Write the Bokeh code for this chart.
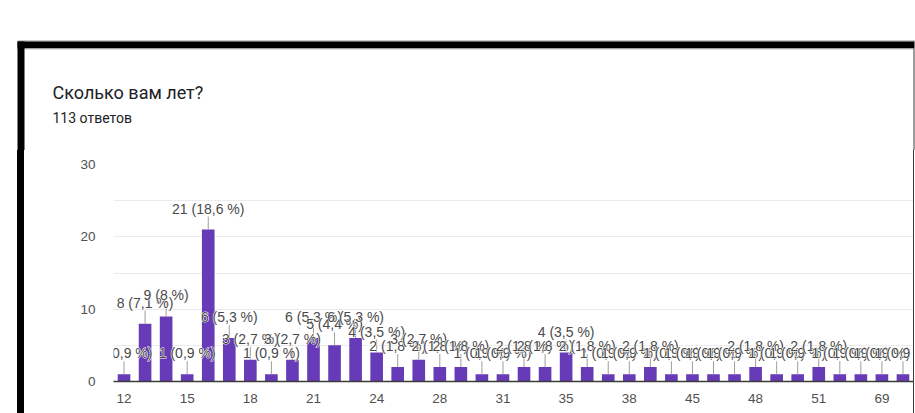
from bokeh.plotting import figure
from bokeh.layouts import column, row
from bokeh.models import (ColumnDataSource, FixedTicker, Range1d, CDSView, IndexFilter,
                          Div, Spacer)
from bokeh.core.properties import value
from bokeh.embed import file_html
from bokeh.resources import INLINE

# Survey answers: age -> number of respondents
ages = [12, 13, 14, 15, 16, 17, 18, 19, 20, 21, 22, 23, 24, 25, 26, 28, 29, 30, 31,
        32, 33, 35, 36, 37, 38, 40, 42, 45, 46, 47, 48, 49, 50, 51, 53, 60, 69, 70]
counts = [1, 8, 9, 1, 21, 6, 3, 1, 3, 6, 5, 6, 4, 2, 3, 2, 2, 1, 1,
          2, 2, 4, 2, 1, 1, 2, 1, 1, 1, 1, 2, 1, 1, 2, 1, 1, 1, 1]
y_ticks = [0, 10, 20, 30]
question = "Сколько вам лет?"

total = sum(counts)


def pct(n):
    s = f"{round(n * 100 / total, 1):.1f}".rstrip("0").rstrip(".")
    return s.replace(".", ",")


labels = [f"{n} ({pct(n)} %)" for n in counts]

# ---- page geometry (pixels) ----
W, H = 915, 413
HEAD_H = 150            # heading strip height
BODY_H = H - HEAD_H     # chart strip height
MARGIN_W = 17           # white page margin left of the card
EDGE_W = 7              # black card edge
RIGHT_W = 1             # thin card edge on the right
CHART_W = W - MARGIN_W - EDGE_W - RIGHT_W - 1

FRAME_LEFT = 113 - MARGIN_W - EDGE_W   # inside the chart figure
FRAME_TOP = 164 - HEAD_H
FRAME_BOTTOM = 381 - HEAD_H
Y_MAX = 30
px_per_unit = (FRAME_BOTTOM - FRAME_TOP) / Y_MAX
LABEL_RISE = 21   # label centre above bar top
STEM_LEN = 13     # leader line length

EDGE = "black"
THIN_EDGE = "#3a3a3a"


def edge_block(width, height, color):
    """Solid block of the card edge, beside the chart."""
    html = (f'<div style="width:{width}px;height:{height}px;'
            f'background-color:{color};margin:0;padding:0"></div>')
    return Div(text=html, width=width, height=height, margin=0)


# ---- heading strip: card edges, question and answer count ----
head = figure(width=W, height=HEAD_H, x_range=Range1d(0, W),
              y_range=Range1d(HEAD_H, 0), x_axis_location=None,
              y_axis_location=None, toolbar_location=None,
              output_backend="svg", min_border=0, outline_line_color=None,
              background_fill_color="white", border_fill_color="white",
              frame_align=False)
head.xgrid.visible = False
head.ygrid.visible = False
head.quad(left=[17], right=[W], top=[40], bottom=[41], color="#9a9a9a", line_color=None)
head.quad(left=[17], right=[914], top=[41], bottom=[48], color=EDGE, line_color=None)
head.quad(left=[24], right=[913], top=[48], bottom=[49], color="#c8c8c8", line_color=None)
head.quad(left=[17], right=[24], top=[41], bottom=[HEAD_H], color=EDGE, line_color=None)
head.quad(left=[913], right=[914], top=[48], bottom=[HEAD_H], color=THIN_EDGE, line_color=None)
head.text(x=[52], y=[92], text=[question], text_font=value("Roboto"),
          text_font_size="18px", text_color="#202124", text_baseline="middle")
head.text(x=[52], y=[117], text=[f"{total} ответов"], text_font=value("Roboto"),
          text_font_size="14px", text_color="#202124", text_baseline="middle")

page_margin = Spacer(width=MARGIN_W, height=BODY_H, margin=0)
left_edge = edge_block(EDGE_W, BODY_H, EDGE)
right_edge = edge_block(RIGHT_W, BODY_H, THIN_EDGE)

# ---- the bar chart ----
xs = list(range(len(ages)))
src = ColumnDataSource(dict(
    x=xs,
    count=counts,
    label=labels,
    stem_top=[c + STEM_LEN / px_per_unit for c in counts],
    label_y=[c + LABEL_RISE / px_per_unit for c in counts],
))

p = figure(width=CHART_W, height=BODY_H,
           x_range=Range1d(-0.5, len(ages) - 0.5), y_range=Range1d(0, Y_MAX),
           output_backend="svg", toolbar_location=None,
           min_border_left=FRAME_LEFT, min_border_right=0,
           min_border_top=FRAME_TOP, min_border_bottom=BODY_H - FRAME_BOTTOM,
           background_fill_color="white", border_fill_color="white",
           outline_line_color=None)

tick_color = "#505050"

p.yaxis.ticker = FixedTicker(ticks=y_ticks)
p.yaxis.axis_line_color = None
p.yaxis.major_tick_line_color = None
p.yaxis.minor_tick_line_color = None
p.yaxis.major_label_standoff = 12
p.yaxis.major_label_text_font = "Liberation Sans"
p.yaxis.major_label_text_font_size = "13.5px"
p.yaxis.major_label_text_color = tick_color

# every third age is labelled on the x axis
shown = list(range(0, len(ages), 3))
p.xaxis.ticker = FixedTicker(ticks=shown)
p.xaxis.major_label_overrides = {i: str(ages[i]) for i in shown}
p.xaxis.axis_line_color = "#3c3c3c"
p.xaxis.axis_line_width = 1.5
p.xaxis.major_tick_line_color = None
p.xaxis.minor_tick_line_color = None
p.xaxis.major_label_standoff = 6
p.xaxis.major_label_text_font = "Liberation Sans"
p.xaxis.major_label_text_font_size = "13.5px"
p.xaxis.major_label_text_color = tick_color

p.xgrid.grid_line_color = None
p.ygrid.ticker = FixedTicker(ticks=list(range(0, Y_MAX + 1, 5)))
p.ygrid.grid_line_color = "#ebebeb"

p.vbar(x="x", top="count", width=0.6, source=src,
       fill_color="#673ab7", line_color=None)
p.segment(x0="x", y0="count", x1="x", y1="stem_top", source=src,
          line_color="#9e9e9e", line_width=1)

# value labels, drawn left to right so each white halo covers the earlier ones
label_style = dict(x="x", y="label_y", text="label", source=src,
                   text_align="center", text_baseline="middle",
                   text_font=value("Liberation Sans"), text_font_size="14px")
for i in xs:
    view = CDSView(filter=IndexFilter([i]))
    p.text(view=view, text_color="white", text_outline_color="white", **label_style)
    p.text(view=view, text_color="#4a4a4a", **label_style)

body = row(page_margin, left_edge, p, right_edge, spacing=0)
layout = column(head, body, spacing=0)

open("out.html", "w").write(file_html(layout, INLINE))
